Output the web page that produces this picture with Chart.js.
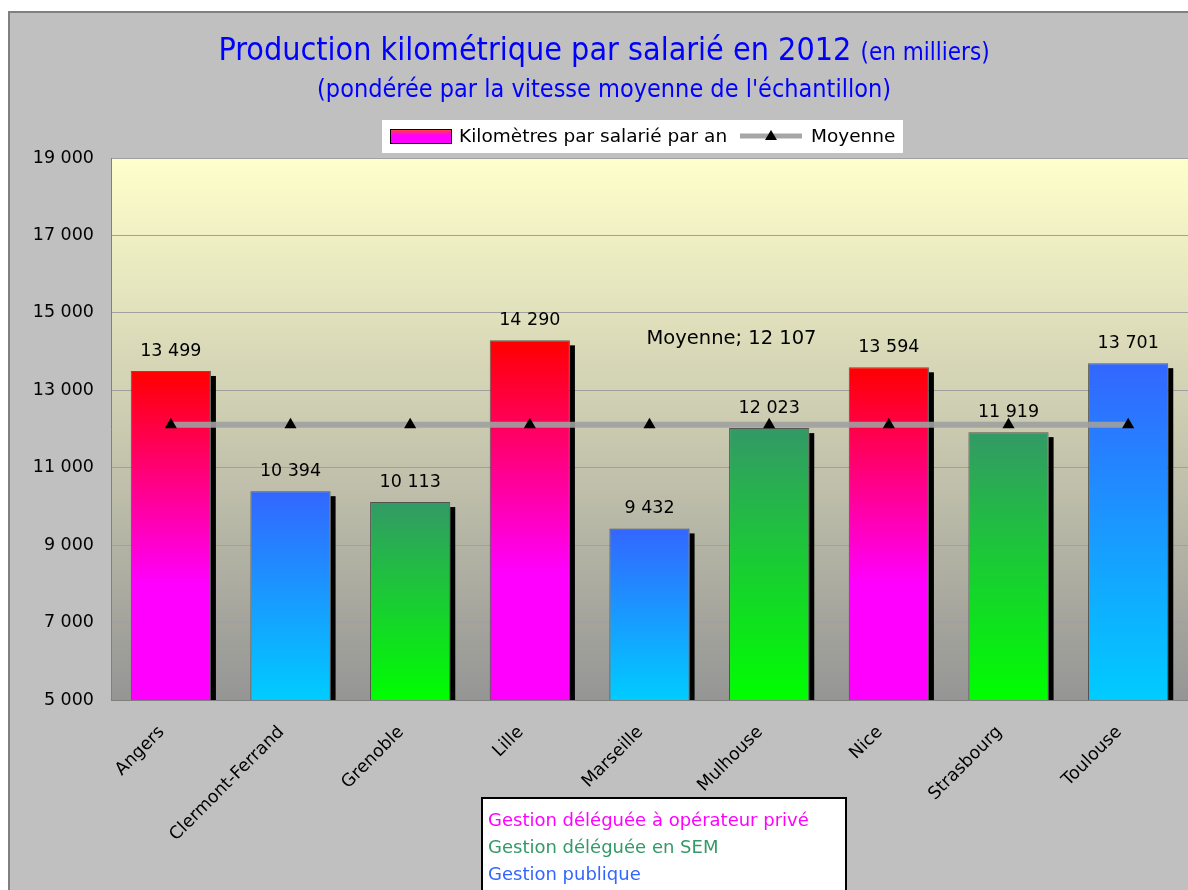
<!DOCTYPE html>
<html>
<head>
<meta charset="utf-8">
<script src="https://cdn.jsdelivr.net/npm/chart.js@4/dist/chart.umd.min.js"></script>
<style>
html, body { margin: 0; padding: 0; background: #fff; }
</style>
</head>
<body>
<canvas id="myChart" width="1188" height="890"></canvas>
<script>
// Data
const cities = ['Angers', 'Clermont-Ferrand', 'Grenoble', 'Lille', 'Marseille',
    'Mulhouse', 'Nice', 'Strasbourg', 'Toulouse'];
const km_per_employee = [13499, 10394, 10113, 14290, 9432, 12023, 13594, 11919, 13701];
// p = private operator, s = SEM, g = public management
const management = ['p', 'g', 's', 'p', 'g', 's', 'p', 's', 'g'];
const average_value = 12107;
const average_line = cities.map(() => average_value);
const y_min = 5000;
const y_max = 19000;
const y_step = 2000;

const title_main = 'Production kilométrique par salarié en 2012';
const title_unit = '(en milliers)';
const title_sub = "(pondérée par la vitesse moyenne de l'échantillon)";
const series_label = 'Kilomètres par salarié par an';
const average_label = 'Moyenne';
const group_labels = ['Gestion déléguée à opérateur privé', 'Gestion déléguée en SEM', 'Gestion publique'];
const group_colors = ['#FF00FF', '#339966', '#3366FF'];

const FONT = "'DejaVu Sans', sans-serif";
const TITLE_FONT = "'Liberation Sans Narrow', 'DejaVu Sans Condensed', sans-serif";

// "13 499"
const fmt = (v) => String(Math.round(v)).replace(/\B(?=(\d{3})+(?!\d))/g, ' ');

const gradient_stops = {
    p: [[0, '#FF0000'], [0.65, '#FF00FF'], [1, '#FF00FF']],
    s: [[0, '#339966'], [1, '#00FF00']],
    g: [[0, '#3366FF'], [1, '#00CCFF']]
};

const bar_fill = (context) => {
    const chart = context.chart;
    const area = chart.chartArea;
    const type = management[context.dataIndex];
    if (!area) {
        return gradient_stops[type][0][1];
    }
    const top = chart.scales.y.getPixelForValue(context.raw);
    const g = chart.ctx.createLinearGradient(0, top, 0, area.bottom);
    gradient_stops[type].forEach(function(s) { g.addColorStop(s[0], s[1]); });
    return g;
};

// background, frame, titles, legends, labels
const decorations = {
    id: 'decorations',
    beforeDraw(chart) {
        const c = chart.ctx;
        const a = chart.chartArea;
        c.save();
        c.fillStyle = '#FFFFFF';
        c.fillRect(0, 0, chart.width, chart.height);
        c.fillStyle = '#C0C0C0';
        c.fillRect(8, 11, chart.width - 8, chart.height - 11);
        c.strokeStyle = '#808080';
        c.lineWidth = 2;
        c.beginPath();
        c.moveTo(9, chart.height);
        c.lineTo(9, 12);
        c.lineTo(chart.width, 12);
        c.stroke();
        // plot area
        const g = c.createLinearGradient(0, a.top, 0, a.bottom);
        g.addColorStop(0, '#FFFFCC');
        g.addColorStop(1, '#959595');
        c.fillStyle = g;
        c.fillRect(a.left, a.top, a.right - a.left, a.bottom - a.top);
        c.restore();
    },
    beforeDatasetDraw(chart, args) {
        // bar shadows, offset right and down
        if (args.index !== 0) {
            return;
        }
        const c = chart.ctx;
        const a = chart.chartArea;
        c.save();
        c.fillStyle = '#000000';
        chart.getDatasetMeta(0).data.forEach(function(bar) {
            const right = bar.x + bar.width / 2;
            c.fillRect(right, bar.y + 5, 5, a.bottom - bar.y - 5);
        });
        c.restore();
    },
    afterDraw(chart) {
        const c = chart.ctx;
        const xs = chart.scales.x;
        const ys = chart.scales.y;
        c.save();

        // title
        const cx = 604;
        c.fillStyle = '#0000FF';
        c.textBaseline = 'alphabetic';
        c.textAlign = 'left';
        c.font = '32px ' + TITLE_FONT;
        const w1 = c.measureText(title_main + ' ').width;
        c.font = '24px ' + TITLE_FONT;
        const w2 = c.measureText(title_unit).width;
        let x0 = cx - (w1 + w2) / 2;
        c.font = '32px ' + TITLE_FONT;
        c.fillText(title_main + ' ', x0, 60);
        c.font = '24px ' + TITLE_FONT;
        c.fillText(title_unit, x0 + w1, 60);
        c.font = '25px ' + TITLE_FONT;
        c.textAlign = 'center';
        c.fillText(title_sub, cx, 97);

        // series legend
        c.fillStyle = '#FFFFFF';
        c.fillRect(382, 120, 521, 33);
        const sw = c.createLinearGradient(0, 130, 0, 143);
        sw.addColorStop(0, '#FF4040');
        sw.addColorStop(0.4, '#FF00FF');
        sw.addColorStop(1, '#FF00FF');
        c.fillStyle = sw;
        c.fillRect(391, 130, 60, 13);
        c.strokeStyle = '#000000';
        c.lineWidth = 1;
        c.strokeRect(390.5, 129.5, 61, 14);
        c.fillStyle = '#000000';
        c.textAlign = 'left';
        c.textBaseline = 'middle';
        c.font = '18.5px ' + FONT;
        c.fillText(series_label, 459, 137);
        c.strokeStyle = '#A6A6A6';
        c.lineWidth = 5;
        c.beginPath();
        c.moveTo(740, 136);
        c.lineTo(802, 136);
        c.stroke();
        c.fillStyle = '#000000';
        c.beginPath();
        c.moveTo(771, 130);
        c.lineTo(777, 140);
        c.lineTo(765, 140);
        c.closePath();
        c.fill();
        c.fillText(average_label, 811, 137);

        // value labels above bars
        c.textAlign = 'center';
        c.textBaseline = 'alphabetic';
        c.font = '17.5px ' + FONT;
        const bars = chart.getDatasetMeta(0).data;
        bars.forEach(function(bar, i) {
            c.fillText(fmt(km_per_employee[i]), bar.x, bar.y - 15);
        });

        // average label
        c.font = '19.5px ' + FONT;
        c.fillText(average_label + '; ' + fmt(average_value),
            xs.getPixelForValue(4) + 82, ys.getPixelForValue(average_value) - 81);

        // management legend
        c.fillStyle = '#FFFFFF';
        c.fillRect(481, 797, 366, 100);
        c.strokeStyle = '#000000';
        c.lineWidth = 2;
        c.strokeRect(482, 798, 364, 100);
        c.textAlign = 'left';
        c.font = '18px ' + FONT;
        group_labels.forEach(function(t, i) {
            c.fillStyle = group_colors[i];
            c.fillText(t, 488, 826 + i * 27);
        });
        c.restore();
    }
};

var ctx = document.getElementById('myChart').getContext('2d');
var chart = new Chart(ctx, {
    data: {
        labels: cities,
        datasets: [
            {
                type: 'bar',
                label: series_label,
                data: km_per_employee,
                backgroundColor: bar_fill,
                borderColor: 'rgba(40, 40, 40, 0.7)',
                borderWidth: 1,
                barPercentage: 0.67,
                categoryPercentage: 1,
                order: 2
            },
            {
                type: 'line',
                label: average_label,
                data: average_line,
                borderColor: 'rgba(160, 160, 160, 0.9)',
                borderWidth: 6,
                pointStyle: 'triangle',
                pointRadius: 7,
                pointBackgroundColor: '#000000',
                pointBorderColor: '#000000',
                pointBorderWidth: 0,
                order: 1
            }
        ]
    },
    options: {
        responsive: false,
        animation: false,
        layout: { autoPadding: false, padding: { top: 158, left: 0, right: 0, bottom: 0 } },
        plugins: {
            legend: { display: false },
            title: { display: false },
            tooltip: { enabled: false }
        },
        scales: {
            x: {
                grid: { display: false, drawTicks: false },
                border: { color: '#808080', width: 1 },
                ticks: {
                    color: '#000000',
                    font: { family: FONT, size: 17.5 },
                    minRotation: 45,
                    maxRotation: 45,
                    autoSkip: false,
                    padding: 22,
                    labelOffset: -9
                },
                afterFit: (scale) => {
                    scale.height = 190;
                    scale.paddingLeft = 0;
                    scale.paddingRight = 0;
                }
            },
            y: {
                min: y_min,
                max: y_max,
                grid: { color: '#A0A0A0', lineWidth: 1, drawTicks: false },
                border: { color: '#808080', width: 1 },
                ticks: {
                    stepSize: y_step,
                    color: '#000000',
                    font: { family: FONT, size: 17.5 },
                    padding: 17,
                    callback: (v) => fmt(v)
                },
                afterFit: (scale) => {
                    scale.width = 111;
                    scale.paddingTop = 0;
                    scale.paddingBottom = 0;
                }
            }
        }
    },
    plugins: [decorations]
});
</script>
</body>
</html>
